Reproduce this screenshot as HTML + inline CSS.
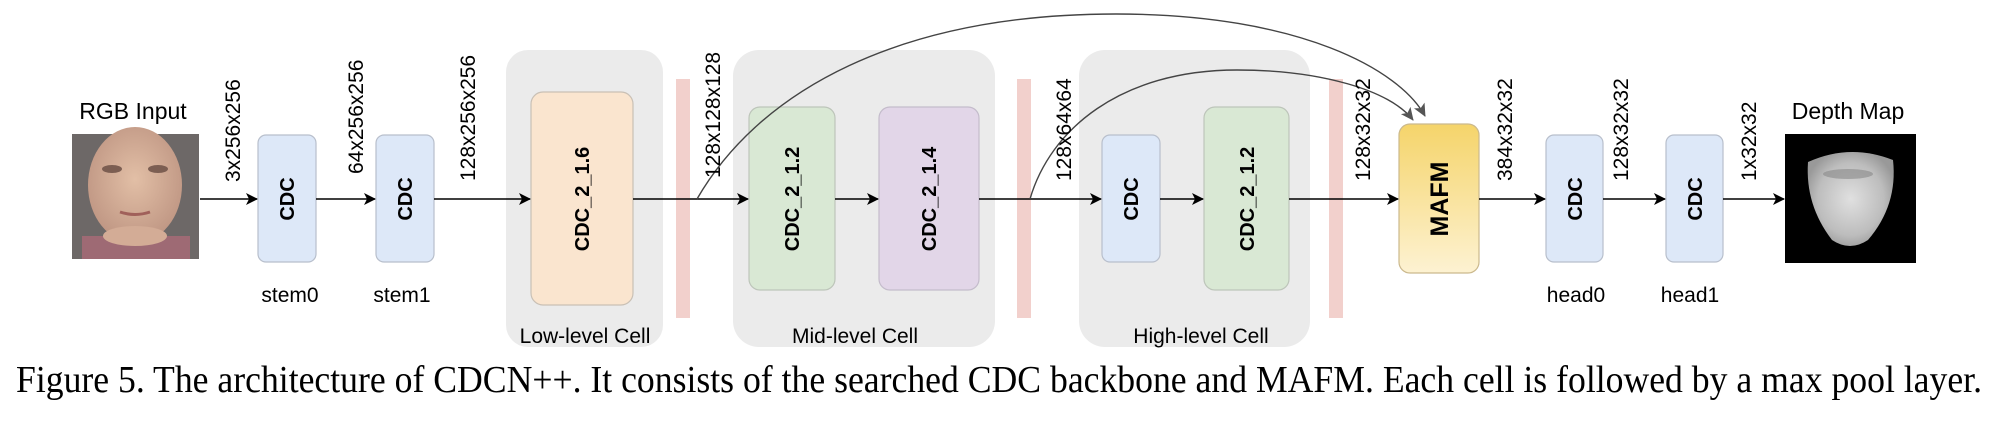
<!DOCTYPE html>
<html><head><meta charset="utf-8"><style>
html,body{margin:0;padding:0;background:#fff;}
svg{display:block}
text{font-family:"Liberation Sans",Arial,sans-serif;fill:#000}
.cap{font-family:"Liberation Serif","Times New Roman",serif}
.rot{font-size:21px}
.b{font-weight:bold;font-size:20px}
.lbl{font-size:21px}
</style></head><body>
<svg width="2008" height="422" viewBox="0 0 2008 422" xmlns="http://www.w3.org/2000/svg">
<defs>
<marker id="ah" markerWidth="12" markerHeight="12" refX="11" refY="6" orient="auto" markerUnits="userSpaceOnUse">
<path d="M0,0 L12,6 L0,12 L3,6 Z" fill="#000"/>
</marker>
<marker id="ag" markerWidth="14" markerHeight="14" refX="12" refY="7" orient="auto" markerUnits="userSpaceOnUse">
<path d="M0,1 L13,7 L0,13 L3,7 Z" fill="#555"/>
</marker>
<linearGradient id="yg" x1="0" y1="0" x2="0" y2="1">
<stop offset="0" stop-color="#f5d46a"/><stop offset="1" stop-color="#fdf2d2"/>
</linearGradient>
<radialGradient id="dg" cx="0.5" cy="0.5" r="0.55">
<stop offset="0" stop-color="#e0e0e0"/><stop offset="0.7" stop-color="#bdbdbd"/><stop offset="1" stop-color="#999"/>
</radialGradient>
<radialGradient id="fg" cx="0.5" cy="0.45" r="0.55">
<stop offset="0" stop-color="#e2bfa6"/><stop offset="1" stop-color="#c09784"/>
</radialGradient>
</defs>

<rect x="506" y="50" width="157" height="297" rx="22" fill="#ebebeb"/>
<rect x="733" y="50" width="262" height="297" rx="26" fill="#ebebeb"/>
<rect x="1079" y="50" width="231" height="297" rx="26" fill="#ebebeb"/>

<rect x="676" y="79" width="14" height="239" fill="#f2d0cc"/>
<rect x="1017" y="79" width="14" height="239" fill="#f2d0cc"/>
<rect x="1329" y="79" width="14" height="239" fill="#f2d0cc"/>

<!-- face -->
<rect x="72" y="134" width="127" height="125" fill="#4a4646"/>
<rect x="72" y="134" width="127" height="125" fill="#8f8a88" opacity="0.5"/>
<ellipse cx="135" cy="185" rx="47" ry="58" fill="url(#fg)"/>
<rect x="82" y="236" width="108" height="23" fill="#9e6a74"/>
<ellipse cx="135" cy="236" rx="32" ry="10" fill="#d3ac96"/>
<ellipse cx="112" cy="169" rx="10" ry="4" fill="#7c5e52"/>
<ellipse cx="158" cy="169" rx="10" ry="4" fill="#7c5e52"/>
<path d="M120,212 Q135,217 150,212" stroke="#a0605a" stroke-width="3" fill="none"/>

<!-- depth map -->
<rect x="1785" y="134" width="131" height="129" fill="#000"/>
<path d="M1808,162 Q1850,143 1893,160 Q1898,205 1868,240 Q1850,252 1832,240 Q1805,205 1808,162 Z" fill="url(#dg)"/>
<ellipse cx="1848" cy="174" rx="25" ry="5" fill="#888" opacity="0.6"/>

<rect x="258" y="135" width="58" height="127" rx="8" fill="#dde8f8" stroke="#b8bfcc" stroke-width="1.2"/>
<rect x="376" y="135" width="58" height="127" rx="8" fill="#dde8f8" stroke="#b8bfcc" stroke-width="1.2"/>
<rect x="531" y="92" width="102" height="213" rx="12" fill="#fae5cf" stroke="#c9c0b5" stroke-width="1.2"/>
<rect x="749" y="107" width="86" height="183" rx="11" fill="#d9e8d4" stroke="#bdc5ba" stroke-width="1.2"/>
<rect x="879" y="107" width="100" height="183" rx="11" fill="#e2d6e8" stroke="#c4bccb" stroke-width="1.2"/>
<rect x="1102" y="135" width="58" height="127" rx="8" fill="#dde8f8" stroke="#b8bfcc" stroke-width="1.2"/>
<rect x="1204" y="107" width="85" height="183" rx="11" fill="#d9e8d4" stroke="#bdc5ba" stroke-width="1.2"/>
<rect x="1399" y="124" width="80" height="149" rx="11" fill="url(#yg)" stroke="#cbb98d" stroke-width="1.2"/>
<rect x="1546" y="135" width="57" height="127" rx="8" fill="#dde8f8" stroke="#b8bfcc" stroke-width="1.2"/>
<rect x="1666" y="135" width="57" height="127" rx="8" fill="#dde8f8" stroke="#b8bfcc" stroke-width="1.2"/>

<g stroke="#000" stroke-width="1.6" fill="none">
<line x1="200" y1="199" x2="257" y2="199" marker-end="url(#ah)"/>
<line x1="316" y1="199" x2="375" y2="199" marker-end="url(#ah)"/>
<line x1="434" y1="199" x2="530" y2="199" marker-end="url(#ah)"/>
<line x1="633" y1="199" x2="748" y2="199" marker-end="url(#ah)"/>
<line x1="835" y1="199" x2="878" y2="199" marker-end="url(#ah)"/>
<line x1="979" y1="199" x2="1101" y2="199" marker-end="url(#ah)"/>
<line x1="1160" y1="199" x2="1203" y2="199" marker-end="url(#ah)"/>
<line x1="1289" y1="199" x2="1398" y2="199" marker-end="url(#ah)"/>
<line x1="1479" y1="199" x2="1545" y2="199" marker-end="url(#ah)"/>
<line x1="1603" y1="199" x2="1665" y2="199" marker-end="url(#ah)"/>
<line x1="1723" y1="199" x2="1784" y2="199" marker-end="url(#ah)"/>
</g>
<g stroke="#444" stroke-width="1.4" fill="none">
<path d="M697,199 C760,90 900,14 1116,14 C1300,14 1400,70 1425,116" marker-end="url(#ag)"/>
<path d="M1030,199 C1050,130 1120,70 1237,70 C1320,70 1390,90 1413,120" marker-end="url(#ag)"/>
</g>

<g class="rot">
<text transform="translate(240,182) rotate(-90)">3x256x256</text>
<text transform="translate(363,174) rotate(-90)">64x256x256</text>
<text transform="translate(475,181) rotate(-90)">128x256x256</text>
<text transform="translate(720,178) rotate(-90)">128x128x128</text>
<text transform="translate(1071,181) rotate(-90)">128x64x64</text>
<text transform="translate(1370,181) rotate(-90)">128x32x32</text>
<text transform="translate(1512,181) rotate(-90)">384x32x32</text>
<text transform="translate(1628,181) rotate(-90)">128x32x32</text>
<text transform="translate(1756,181) rotate(-90)">1x32x32</text>
</g>

<g class="b" text-anchor="middle">
<text transform="translate(294,199) rotate(-90)">CDC</text>
<text transform="translate(412,199) rotate(-90)">CDC</text>
<text transform="translate(589,199) rotate(-90)">CDC_2_1.6</text>
<text transform="translate(799,199) rotate(-90)">CDC_2_1.2</text>
<text transform="translate(936,199) rotate(-90)">CDC_2_1.4</text>
<text transform="translate(1138,199) rotate(-90)">CDC</text>
<text transform="translate(1254,199) rotate(-90)">CDC_2_1.2</text>
<text transform="translate(1448,199) rotate(-90)" style="font-size:25px">MAFM</text>
<text transform="translate(1582,199) rotate(-90)">CDC</text>
<text transform="translate(1702,199) rotate(-90)">CDC</text>
</g>

<g class="lbl" text-anchor="middle">
<text x="133" y="119" style="font-size:23px">RGB Input</text>
<text x="1848" y="119" style="font-size:23px">Depth Map</text>
<text x="290" y="302">stem0</text>
<text x="402" y="302">stem1</text>
<text x="1576" y="302">head0</text>
<text x="1690" y="302">head1</text>
<text x="585" y="343">Low-level Cell</text>
<text x="855" y="343">Mid-level Cell</text>
<text x="1201" y="343">High-level Cell</text>
</g>

<text class="cap" x="16" y="392" font-size="38" textLength="1966" lengthAdjust="spacingAndGlyphs">Figure 5.  The architecture of CDCN++. It consists of the searched CDC backbone and MAFM. Each cell is followed by a max pool layer.</text>
</svg>
</body></html>
